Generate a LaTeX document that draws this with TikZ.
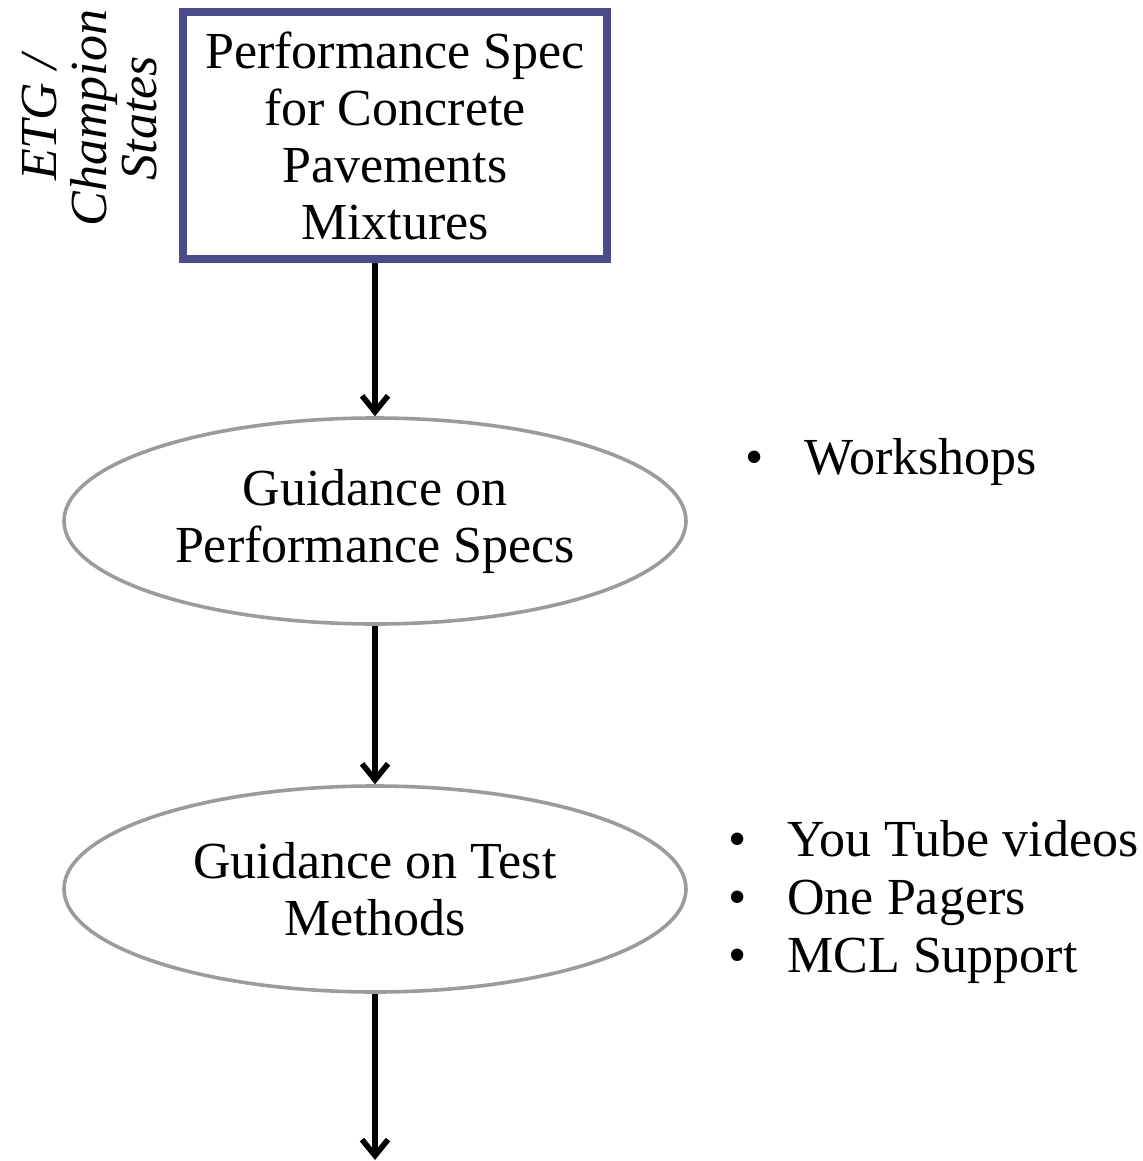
\documentclass[tikz,border=0pt]{standalone}
\usepackage{fontspec}
\setmainfont{Liberation Serif}
\usetikzlibrary{shapes.geometric,arrows.meta}
\definecolor{specblue}{RGB}{75,75,135}
\definecolor{ovalgray}{RGB}{155,155,155}
\newcommand\bul{\makebox[29.5pt][l]{\textbullet}}

\begin{document}
\begin{tikzpicture}
      [x=0.5pt,y=-0.5pt,
       every node/.style={font=\fontsize{26}{28.5}\selectfont},
       specbox/.style={draw=specblue,line width=3.6pt,minimum width=212pt,minimum height=123.5pt,align=center,inner sep=0},
       oval/.style={ellipse,draw=ovalgray,line width=1.8pt,minimum width=311pt,minimum height=103pt,align=center,inner sep=0},
       flow/.style={-{Straight Barb[length=8pt,width=13pt]},line width=2.8pt},
       item/.style={anchor=base west,inner sep=0}]
      \useasboundingbox (0,0) rectangle (1143,1161);

      \node [specbox] (spec) at (395,135.5) {Performance Spec\\for Concrete\\Pavements\\Mixtures};
      \node [rotate=90,align=center,font=\fontsize{26}{25}\selectfont\itshape] (etg) at (90,118) {ETG /\\Champion\\States};
      \node [oval] (g1) at (375,521) {Guidance on\\Performance Specs};
      \node [oval] (g2) at (375,889) {Guidance on Test\\Methods};
      \coordinate (end) at (375,1160);

      \node [item] (w1) at (745,474) {\bul Workshops};
      \node [item] (t1) at (728,856) {\bul You Tube videos};
      \node [item] (t2) at (728,914) {\bul One Pagers};
      \node [item] (t3) at (728,972) {\bul MCL Support};

      \draw [flow] (spec.south -| g1.north) -- (g1.north);
      \draw [flow] (g1) -- (g2);
      \draw [flow] (g2) -- (end);
    \end{tikzpicture}
\end{document}
